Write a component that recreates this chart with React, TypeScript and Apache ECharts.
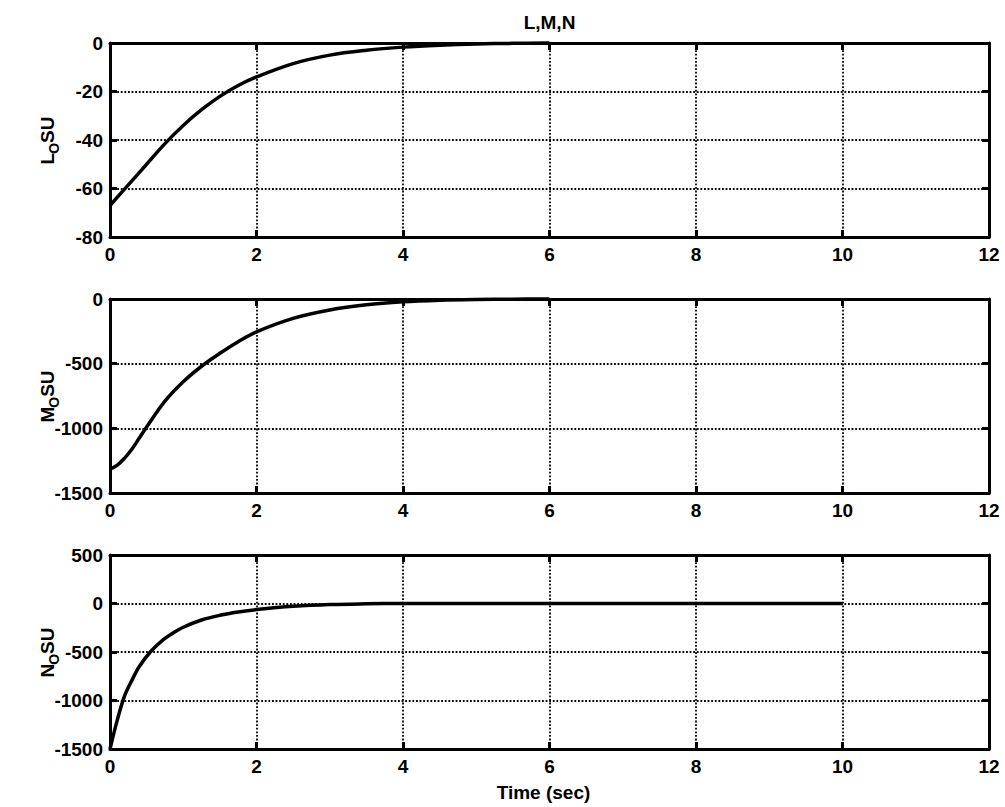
import React, { useEffect, useRef } from "react";
import * as echarts from "echarts";

// ---- data ----
const TITLE = "L,M,N";
const X_LABEL = "Time (sec)";

const X_MIN = 0;
const X_MAX = 12;
const X_STEP = 2;

const L_RANGE = [-80, 0, 20];
const M_RANGE = [-1500, 0, 500];
const N_RANGE = [-1500, 500, 500];

const L_TIME = [0, 0.25, 0.5, 0.75, 1, 1.25, 1.5, 1.75, 2, 2.5, 3, 3.5, 4, 4.5, 5, 5.5, 6];
const L_VALUES = [-67, -58.5, -50, -41.5, -34, -27.5, -22, -17.5, -14, -8.5, -5, -3, -1.7, -0.9, -0.4, -0.15, 0];

const M_TIME = [0, 0.1, 0.2, 0.3, 0.4, 0.5, 0.75, 1, 1.25, 1.5, 1.75, 2, 2.5, 3, 3.5, 4, 4.5, 5, 5.5, 6];
const M_VALUES = [-1315, -1285, -1230, -1160, -1075, -990, -790, -640, -520, -420, -330, -254, -150, -85, -45, -22, -10, -4, -1, 0];

const N_TIME = [0, 0.1, 0.2, 0.3, 0.4, 0.55, 0.7, 0.85, 1, 1.25, 1.5, 1.75, 2, 2.5, 3, 3.5, 4, 6, 8, 10];
const N_VALUES = [-1500, -1200, -950, -790, -650, -500, -390, -310, -245, -170, -122, -88, -63, -29, -10, -3, 0, 0, 0, 0];

const Y_NAMES = [
  ["L", "O", "SU"],
  ["M", "O", "SU"],
  ["N", "O", "SU"],
];

// ---- layout ----
const LEFT = 110;
const WIDTH = 879;
const TOPS = [43, 299, 555];
const HEIGHT = 194;
const FONT = "'Liberation Sans', Arial, Helvetica, sans-serif";
const FS = 19;

export default function App() {
  const ref = useRef<HTMLDivElement>(null);

  useEffect(() => {
    if (!ref.current) return;
    const chart = echarts.init(ref.current, undefined, { renderer: "svg" });

    const ranges = [L_RANGE, M_RANGE, N_RANGE];
    const seriesData = [
      L_TIME.map((t, i) => [t, L_VALUES[i]]),
      M_TIME.map((t, i) => [t, M_VALUES[i]]),
      N_TIME.map((t, i) => [t, N_VALUES[i]]),
    ];

    const grids = TOPS.map((top) => ({
      left: LEFT,
      top,
      width: WIDTH,
      height: HEIGHT,
      show: false,
    }));

    const lineStyle = { color: "#000", width: 3 };
    const tickStyle = { show: true, inside: true, length: 7, lineStyle: { color: "#000", width: 3 } };
    const splitStyle = { show: true, lineStyle: { color: "#000", width: 1.8, type: "dotted" as const } };
    const labelStyle = {
      color: "#000",
      fontFamily: FONT,
      fontWeight: "bold" as const,
      fontSize: FS,
      formatter: (v: number) => String(v),
    };

    const xAxes: any[] = [];
    const yAxes: any[] = [];
    [0, 1, 2].forEach((g) => {
      xAxes.push({
        type: "value",
        gridIndex: g,
        min: X_MIN,
        max: X_MAX,
        interval: X_STEP,
        position: "bottom",
        axisLine: { show: true, onZero: false, lineStyle },
        axisTick: tickStyle,
        splitLine: splitStyle,
        axisLabel: { ...labelStyle, margin: 8 },
      });
      yAxes.push({
        type: "value",
        gridIndex: g,
        min: ranges[g][0],
        max: ranges[g][1],
        interval: ranges[g][2],
        position: "left",
        axisLine: { show: true, onZero: false, lineStyle },
        axisTick: tickStyle,
        splitLine: splitStyle,
        axisLabel: { ...labelStyle, margin: 7 },
      });
    });
    [0, 1, 2].forEach((g) => {
      xAxes.push({
        type: "value",
        gridIndex: g,
        min: X_MIN,
        max: X_MAX,
        interval: X_STEP,
        position: "top",
        axisLine: { show: true, onZero: false, lineStyle },
        axisTick: tickStyle,
        splitLine: { show: false },
        axisLabel: { show: false },
      });
      yAxes.push({
        type: "value",
        gridIndex: g,
        min: ranges[g][0],
        max: ranges[g][1],
        interval: ranges[g][2],
        position: "right",
        axisLine: { show: true, onZero: false, lineStyle },
        axisTick: tickStyle,
        splitLine: { show: false },
        axisLabel: { show: false },
      });
    });

    const series = seriesData.map((data, g) => ({
      type: "line",
      xAxisIndex: g,
      yAxisIndex: g,
      data,
      showSymbol: false,
      smooth: 0.35,
      clip: false,
      lineStyle: { color: "#000", width: 3.5 },
      z: 5,
    }));

    const txt = (text: string, x: number, y: number, size: number, align = "left") => ({
      type: "text",
      x,
      y,
      style: {
        text,
        fill: "#000",
        font: `bold ${size}px ${FONT}`,
        textAlign: align,
        textVerticalAlign: "middle",
      },
    });

    const graphic: any[] = [
      txt(TITLE, LEFT + WIDTH / 2, 22, FS, "center"),
      txt(X_LABEL, LEFT + WIDTH / 2 - 6, 792, FS, "center"),
    ];
    Y_NAMES.forEach((parts, g) => {
      // widths approximated from Arial Bold advance widths
      const mainW = (ch: string) =>
        ch === "L" ? 0.611 : ch === "M" ? 0.833 : ch === "N" ? 0.722 : 0.7;
      const w0 = mainW(parts[0]) * FS;
      const w1 = 0.778 * 14;
      const w2 = (0.667 + 0.722) * FS;
      const total = w0 + w1 + w2;
      const start = -total / 2;
      graphic.push({
        type: "group",
        x: 47,
        y: TOPS[g] + HEIGHT / 2,
        rotation: Math.PI / 2,
        children: [
          txt(parts[0], start, 0, FS),
          txt(parts[1], start + w0 - 1, 7, 14),
          txt(parts[2], start + w0 + w1 - 1, 0, FS),
        ],
      });
    });

    chart.setOption({
      animation: false,
      backgroundColor: "#fff",
      grid: grids,
      xAxis: xAxes,
      yAxis: yAxes,
      series,
      graphic,
    });

    return () => chart.dispose();
  }, []);

  return (
    <div
      ref={ref}
      style={{ position: "fixed", left: 0, top: 0, width: 1005, height: 807, background: "#fff" }}
    />
  );
}
